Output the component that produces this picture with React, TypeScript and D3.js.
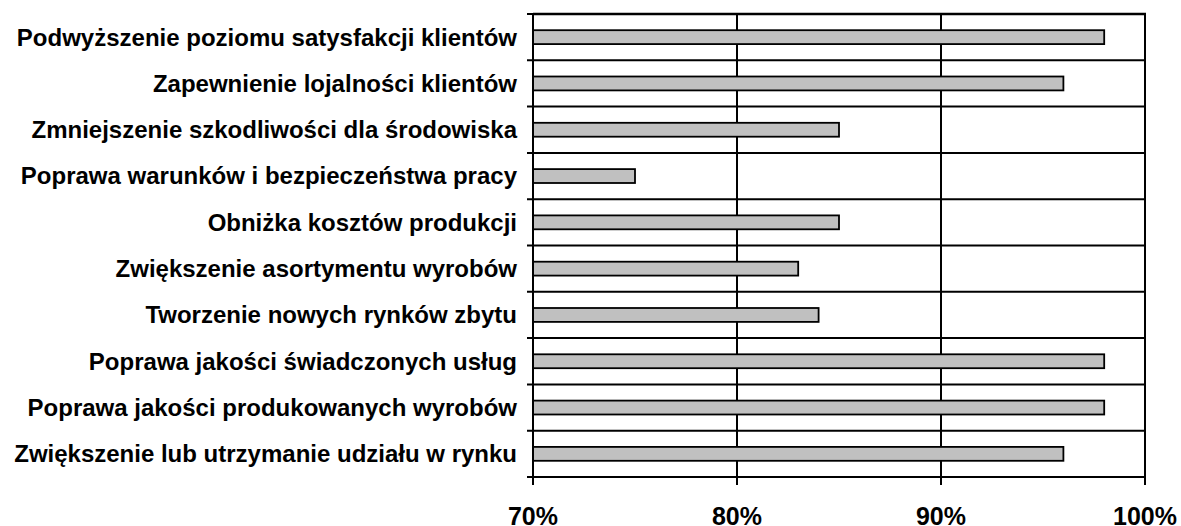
import React from "react";
import * as d3 from "d3";

const categories = [
  "Podwyższenie poziomu satysfakcji klientów",
  "Zapewnienie lojalności klientów",
  "Zmniejszenie szkodliwości dla środowiska",
  "Poprawa warunków i bezpieczeństwa pracy",
  "Obniżka kosztów produkcji",
  "Zwiększenie asortymentu wyrobów",
  "Tworzenie nowych rynków zbytu",
  "Poprawa jakości świadczonych usług",
  "Poprawa jakości produkowanych wyrobów",
  "Zwiększenie lub utrzymanie udziału w rynku",
];
const values = [98, 96, 85, 75, 85, 83, 84, 98, 98, 96];
const xTicks = [70, 80, 90, 100];

const W = 1181;
const H = 526;
const M = { left: 533, right: 1145, top: 14, bottom: 477 };

export default function App() {
  const x = d3.scaleLinear().domain([70, 100]).range([M.left, M.right]);
  const y = d3
    .scaleBand<string>()
    .domain(categories)
    .range([M.top, M.bottom])
    .paddingInner(0)
    .paddingOuter(0);
  const bw = y.bandwidth();
  const barH = bw * 0.3;
  const boundaries = d3.range(categories.length + 1).map((i) => M.top + i * bw);
  const font = "'Liberation Sans', Arial, sans-serif";

  return (
    <svg
      width={W}
      height={H}
      style={{ position: "absolute", left: 0, top: 0, background: "#fff" }}
    >
      {/* vertical gridlines */}
      {xTicks.map((t) => (
        <line
          key={"vg" + t}
          x1={x(t)}
          x2={x(t)}
          y1={M.top}
          y2={M.bottom + 8}
          stroke="#000"
          strokeWidth={2}
        />
      ))}
      {/* horizontal gridlines at band boundaries */}
      {boundaries.map((b, i) => (
        <line
          key={"hg" + i}
          x1={M.left - 6}
          x2={M.right}
          y1={b}
          y2={b}
          stroke="#000"
          strokeWidth={2}
        />
      ))}
      {/* bars */}
      {categories.map((c, i) => (
        <rect
          key={"b" + i}
          x={x(70)}
          y={(y(c) as number) + bw / 2 - barH / 2}
          width={x(values[i]) - x(70)}
          height={barH}
          fill="#c0c0c0"
          stroke="#000"
          strokeWidth={1.8}
        />
      ))}
      {/* left axis */}
      <line x1={M.left} x2={M.left} y1={M.top} y2={M.bottom + 8} stroke="#000" strokeWidth={2} />
      {/* top border */}
      <line x1={M.left} x2={M.right + 1} y1={M.top} y2={M.top} stroke="#000" strokeWidth={2.5} />
      {/* category labels */}
      {categories.map((c) => (
        <text
          key={"l" + c}
          x={517}
          y={(y(c) as number) + bw / 2}
          dy="0.35em"
          textAnchor="end"
          fontFamily={font}
          fontWeight="bold"
          fontSize={24}
          fill="#000"
        >
          {c}
        </text>
      ))}
      {/* x tick labels */}
      {xTicks.map((t) => (
        <text
          key={"xt" + t}
          x={x(t)}
          y={525}
          textAnchor="middle"
          fontFamily={font}
          fontWeight="bold"
          fontSize={25}
          fill="#000"
        >
          {t + "%"}
        </text>
      ))}
    </svg>
  );
}
